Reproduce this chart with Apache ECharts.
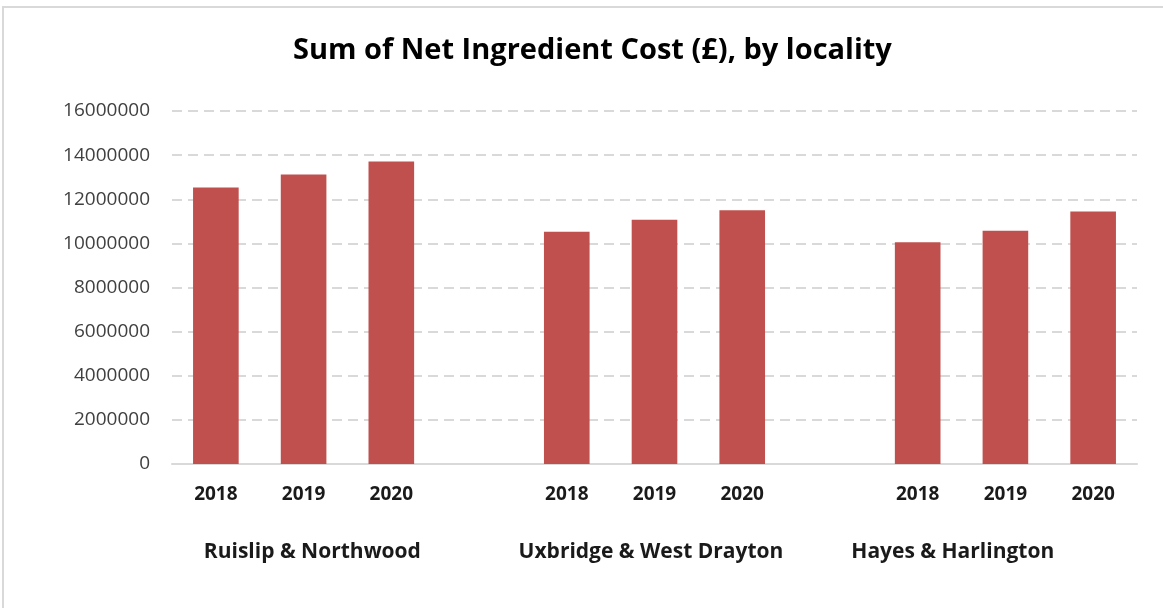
<!DOCTYPE html>
<html>
<head>
<meta charset="utf-8">
<script src="https://cdn.jsdelivr.net/npm/echarts@6/dist/echarts.min.js"></script>
<style>
  html, body { margin: 0; padding: 0; background: #fff; }
  #chart { width: 1163px; height: 608px; }
</style>
</head>
<body>
<div id="chart"></div>
<script>
// 数据
const localities = ['Ruislip & Northwood', 'Uxbridge & West Drayton', 'Hayes & Harlington']
const years = ['2018', '2019', '2020']
const ruislip = [12530000, 13120000, 13710000]
const uxbridge = [10530000, 11070000, 11500000]
const hayes = [10050000, 10570000, 11450000]
const yTicks = [0, 2000000, 4000000, 6000000, 8000000, 10000000, 12000000, 14000000, 16000000]

// 每个地区三年，地区之间留一个空位
const groups = [ruislip, uxbridge, hayes]
let categories = []
let values = []
groups.forEach((g, gi) => {
  years.forEach((y, yi) => {
    categories.push(gi + '|' + y)
    values.push(g[yi])
  })
  if (gi < groups.length - 1) {
    categories.push(gi + '|gap')
    values.push(null)
  }
})

const labelFont = '"Open Sans", "Liberation Sans", sans-serif'
// 地区标签在第二条x轴上的位置
const localityAt = [1.6, 5.46, 8.9]

let option = {
  animation: false,
  title: {
    text: 'Sum of Net Ingredient Cost (£), by locality',
    left: 288,
    top: 31,
    textStyle: { fontFamily: labelFont, fontSize: 29, fontWeight: 'bold', color: '#000' }
  },
  graphic: [{
    type: 'rect',
    shape: { x: 3, y: 7, width: 1170, height: 620 },
    style: { fill: 'none', stroke: '#d9d9d9', lineWidth: 2 },
    silent: true
  }],
  grid: { left: 172, right: 26, top: 111, bottom: 144 },
  xAxis: [
    {
      type: 'category',
      data: categories,
      axisLine: { lineStyle: { color: '#d9d9d9', width: 2 } },
      axisTick: { show: false },
      axisLabel: {
        interval: 0,
        margin: 21,
        color: '#1a1a1a',
        fontFamily: labelFont,
        fontSize: 19,
        fontWeight: 'bold',
        formatter: v => { const s = v.split('|')[1]; return s === 'gap' ? '' : s }
      }
    },
    {
      type: 'value',
      position: 'bottom',
      min: 0,
      max: categories.length,
      axisLine: { show: false },
      axisTick: { show: false },
      splitLine: { show: false },
      axisLabel: {
        customValues: localityAt,
        margin: 78,
        color: '#1a1a1a',
        fontFamily: labelFont,
        fontSize: 21,
        fontWeight: 'bold',
        formatter: v => {
          const idx = localityAt.findIndex(p => Math.abs(p - v) < 0.01)
          return idx >= 0 ? localities[idx] : ''
        }
      }
    }
  ],
  yAxis: {
    type: 'value',
    min: yTicks[0],
    max: yTicks[yTicks.length - 1],
    interval: yTicks[1] - yTicks[0],
    axisLine: { show: false },
    axisTick: { show: false },
    axisLabel: {
      margin: 22,
      color: '#404040',
      fontFamily: labelFont,
      fontSize: 19,
      formatter: v => String(v)
    },
    splitLine: { lineStyle: { color: '#d9d9d9', width: 2, type: [10, 6] } }
  },
  series: [{
    type: 'bar',
    xAxisIndex: 0,
    data: values,
    barWidth: '52%',
    itemStyle: { color: '#c0504d' }
  }]
}

let chart = echarts.init(document.getElementById('chart'))
chart.setOption(option)
window.addEventListener('resize', () => { chart.resize() })
</script>
</body>
</html>
